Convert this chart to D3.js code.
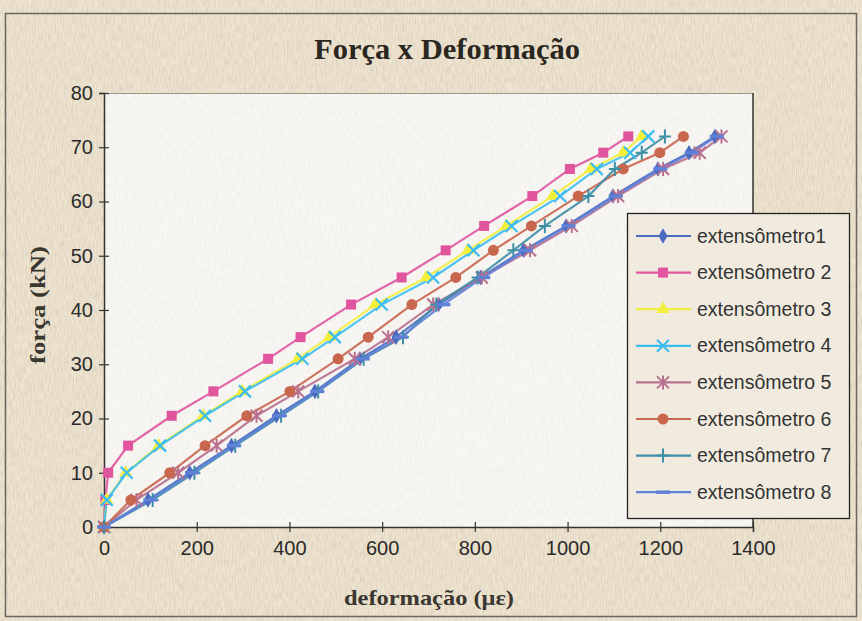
<!DOCTYPE html>
<html>
<head>
<meta charset="utf-8">
<script src="https://cdn.jsdelivr.net/npm/d3@7"></script>
<style>
  body { margin: 0; background: #efe7d6; }
</style>
</head>
<body>
<svg id="chart" width="862" height="621"></svg>
<script>
// force levels (kN), shared by every gauge
var forces = [0, 5, 10, 15, 20.5, 25, 31, 35, 41, 46, 51, 55.5, 61, 66, 69, 72];

// strain readings (microstrain) per gauge
var ext1 = [0, 95, 185, 275, 372, 455, 552, 630, 722, 812, 905, 997, 1098, 1195, 1262, 1318];
var ext2 = [0, 3, 9, 52, 146, 236, 354, 424, 533, 642, 737, 820, 924, 1005, 1077, 1131];
var ext3 = [0, 6, 47, 118, 214, 298, 418, 486, 585, 695, 785, 868, 968, 1050, 1120, 1160];
var ext4 = [0, 6, 49, 121, 218, 304, 428, 498, 599, 710, 797, 879, 984, 1063, 1135, 1174];
var ext5 = [0, 70, 160, 243, 329, 419, 541, 613, 710, 815, 919, 1009, 1109, 1206, 1285, 1332];
var ext6 = [0, 58, 142, 218, 308, 401, 505, 570, 664, 759, 840, 922, 1023, 1120, 1199, 1250];
var ext7 = [0, 105, 195, 283, 382, 462, 560, 645, 717, 806, 883, 951, 1045, 1102, 1160, 1210];
var ext8 = [0, 100, 190, 280, 378, 460, 558, 640, 732, 818, 910, 1002, 1104, 1200, 1268, 1322];

var names = ["extensômetro1", "extensômetro 2", "extensômetro 3", "extensômetro 4",
             "extensômetro 5", "extensômetro 6", "extensômetro 7", "extensômetro 8"];
var xTicks = [0, 200, 400, 600, 800, 1000, 1200, 1400];
var yTicks = [0, 10, 20, 30, 40, 50, 60, 70, 80];

var colors = ["#4a6cc0", "#e0559e", "#f2ee3c", "#3cbcf0", "#b8708e", "#c8664e", "#3e8ea6", "#5f82d8"];
var markers = ["diamond", "square", "triangle", "x", "asterisk", "circle", "plus", "dash"];

var series = [ext1, ext2, ext3, ext4, ext5, ext6, ext7, ext8].map(function(vals, i) {
  return {
    name: names[i], color: colors[i], marker: markers[i],
    points: vals.map(function(v, j) { return {x: v, y: forces[j]}; })
  };
});

var svg = d3.select("#chart");

var x = d3.scaleLinear().domain([0, 1400]).range([104, 753]);
var y = d3.scaleLinear().domain([0, 80]).range([527, 93]);

// paper texture
var defs = svg.append("defs");
var f = defs.append("filter").attr("id", "grain").attr("x", 0).attr("y", 0).attr("width", "100%").attr("height", "100%");
f.append("feTurbulence").attr("type", "fractalNoise").attr("baseFrequency", "0.9 0.12").attr("numOctaves", 2).attr("seed", 3);
f.append("feColorMatrix").attr("type", "matrix")
  .attr("values", "0 0 0 0 0.45  0 0 0 0 0.4  0 0 0 0 0.33  0 0 0 -1.4 0.9");

svg.append("rect").attr("width", 862).attr("height", 621).attr("fill", "#eee4cf");
svg.append("rect").attr("width", 862).attr("height", 621).attr("filter", "url(#grain)").attr("opacity", 0.45);

// outer frame
svg.append("rect").attr("x", 5.5).attr("y", 13.5).attr("width", 851).attr("height", 603)
  .attr("fill", "none").attr("stroke", "#6a6660").attr("stroke-width", 1.5);

// plot area
svg.append("rect").attr("x", 104).attr("y", 93).attr("width", 649).attr("height", 434)
  .attr("fill", "#f8f7f4");
svg.append("rect").attr("x", 104).attr("y", 93).attr("width", 649).attr("height", 434)
  .attr("filter", "url(#grain)").attr("opacity", 0.15);
svg.append("line").attr("x1", 104).attr("x2", 753).attr("y1", 93.5).attr("y2", 93.5)
  .attr("stroke", "#9a968c").attr("stroke-width", 1.2);
svg.append("line").attr("x1", 753).attr("x2", 753).attr("y1", 93).attr("y2", 527)
  .attr("stroke", "#333").attr("stroke-width", 1.5);

// axes
var xAxis = svg.append("g").attr("transform", "translate(0,527)")
  .call(d3.axisBottom(x).tickValues(xTicks).tickSize(5).tickPadding(9).tickFormat(d3.format("d")));
xAxis.selectAll(".tick line").attr("y1", -5);
var yAxis = svg.append("g").attr("transform", "translate(104,0)")
  .call(d3.axisLeft(y).tickValues(yTicks).tickSize(5).tickPadding(6).tickFormat(d3.format("d")));
yAxis.selectAll(".tick line").attr("x1", 5);
[xAxis, yAxis].forEach(function(a) {
  a.select(".domain").attr("stroke", "#333").attr("stroke-width", 1.5);
  a.selectAll(".tick line").attr("stroke", "#333").attr("stroke-width", 1.2);
  a.selectAll("text").attr("fill", "#2a2a2a")
    .style("font-family", "'Liberation Sans Narrow', 'Arial Narrow', sans-serif")
    .style("font-size", "20px");
});

// lines and markers
var line = d3.line().x(function(d) { return x(d.x); }).y(function(d) { return y(d.y); });

function drawMarker(g, type, color) {
  if (type === "diamond") {
    g.append("path").attr("d", d3.symbol().type(d3.symbolDiamond).size(70)).attr("fill", color);
  } else if (type === "square") {
    g.append("rect").attr("x", -5).attr("y", -5).attr("width", 10).attr("height", 10).attr("fill", color);
  } else if (type === "triangle") {
    g.append("path").attr("d", d3.symbol().type(d3.symbolTriangle).size(75)).attr("fill", color);
  } else if (type === "circle") {
    g.append("circle").attr("r", 5.5).attr("fill", color);
  } else if (type === "x") {
    g.append("path").attr("d", "M-6,-6L6,6M-6,6L6,-6").attr("stroke", color).attr("stroke-width", 2.2);
  } else if (type === "asterisk") {
    g.append("path").attr("d", "M-6,-6L6,6M-6,6L6,-6M0,-7L0,7").attr("stroke", color).attr("stroke-width", 2);
  } else if (type === "plus") {
    g.append("path").attr("d", "M0,-7L0,7M-6,0L6,0").attr("stroke", color).attr("stroke-width", 2);
  } else if (type === "dash") {
    g.append("path").attr("d", "M-7,0L7,0").attr("stroke", color).attr("stroke-width", 3.5);
  }
}

var plot = svg.append("g");
series.forEach(function(s) {
  plot.append("path").datum(s.points).attr("d", line)
    .attr("fill", "none").attr("stroke", s.color).attr("stroke-width", 2.2).attr("opacity", 0.9);
});
series.forEach(function(s) {
  plot.selectAll(null).data(s.points).enter().append("g")
    .attr("transform", function(d) { return "translate(" + x(d.x) + "," + y(d.y) + ")"; })
    .each(function() { drawMarker(d3.select(this), s.marker, s.color); });
});

// titles
var serif = "'Liberation Serif', 'Times New Roman', serif";
svg.append("text").attr("x", 447).attr("y", 59).attr("text-anchor", "middle")
  .attr("textLength", 266).attr("lengthAdjust", "spacingAndGlyphs")
  .style("font-family", serif).style("font-weight", "bold").style("font-size", "29px")
  .attr("fill", "#2a2620").text("Força x Deformação");
svg.append("text").attr("x", 429).attr("y", 605).attr("text-anchor", "middle")
  .attr("textLength", 170).attr("lengthAdjust", "spacingAndGlyphs")
  .style("font-family", serif).style("font-weight", "bold").style("font-size", "21px")
  .attr("fill", "#3a3630").text("deformação (με)");
svg.append("text").attr("transform", "translate(45,305) rotate(-90)").attr("text-anchor", "middle")
  .attr("textLength", 118).attr("lengthAdjust", "spacingAndGlyphs")
  .style("font-family", serif).style("font-weight", "bold").style("font-size", "21px")
  .attr("fill", "#3a3630").text("força (kN)");

// legend
var legend = svg.append("g");
legend.append("rect").attr("x", 627.5).attr("y", 213.5).attr("width", 222).attr("height", 305)
  .attr("fill", "#f1ebdf").attr("stroke", "#222").attr("stroke-width", 1.3);
series.forEach(function(s, i) {
  var ly = 236 + i * 36.6;
  var item = legend.append("g").attr("transform", "translate(0," + ly + ")");
  item.append("line").attr("x1", 636).attr("x2", 691).attr("y1", 0).attr("y2", 0)
    .attr("stroke", s.color).attr("stroke-width", 2.2);
  drawMarker(item.append("g").attr("transform", "translate(663,0)"), s.marker, s.color);
  item.append("text").attr("x", 697).attr("y", 6.5)
    .style("font-family", "'Liberation Sans', Arial, sans-serif").style("font-size", "19.5px")
    .attr("fill", "#333").text(s.name);
});
</script>
</body>
</html>
